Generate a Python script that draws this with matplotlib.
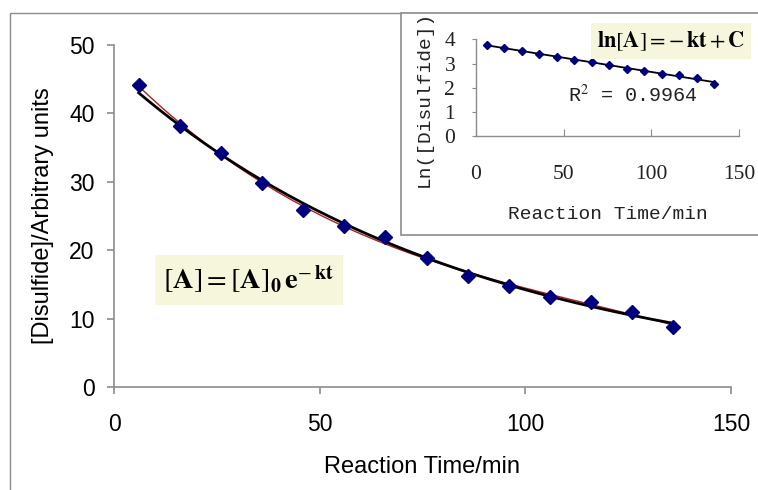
import numpy as np
import matplotlib
matplotlib.use('Agg')
from matplotlib import pyplot as plt
from matplotlib.patches import Rectangle

# data
time_min = [6, 16, 26, 36, 46, 56, 66, 76, 86, 96, 106, 116, 126, 136]
disulfide = [44.2, 38.2, 34.2, 29.8, 25.9, 23.5, 21.9, 18.9, 16.2, 14.8, 13.2, 12.4, 11.0, 8.8]
x_ticks = [0, 50, 100, 150]
y_ticks = [0, 10, 20, 30, 40, 50]
inset_y_ticks = [0, 1, 2, 3, 4]
r2_text = 'R$^2$ = 0.9964'

t = np.array(time_min, dtype=float)
conc = np.array(disulfide)
ln_conc = np.log(conc)

# trendlines like the spreadsheet ones
slope, icpt = np.polyfit(t, ln_conc, 1)
tt = np.linspace(t.min(), t.max(), 200)
exp_fit = np.exp(icpt + slope * tt)
poly_fit = np.polyval(np.polyfit(t, conc, 3), tt)

plt.rcParams['font.family'] = 'Liberation Sans'
plt.rcParams['mathtext.fontset'] = 'stix'

grey = '#8c8c8c'
navy = '#00007f'

fig = plt.figure(figsize=(7.58, 4.90), dpi=100)

# outer frame
fig.add_artist(Rectangle((10 / 758, -0.2), 2.0, 1.2 - 13 / 490, transform=fig.transFigure,
                         fill=False, ec=grey, lw=1.0, zorder=0))

ax = fig.add_axes([114 / 758, 1 - 387 / 490, (731 - 114) / 758, (387 - 45) / 490])
ax.set_facecolor('none')
ax.plot(tt, poly_fit, color='#b02020', lw=1.0, zorder=2)
ax.plot(tt, exp_fit, color='black', lw=2.0, zorder=3)
ax.plot(t, conc, 'D', color=navy, ms=7, zorder=4, clip_on=False)
ax.set_xlim(0, 150)
ax.set_ylim(0, 50)
ax.set_xticks(x_ticks)
ax.set_yticks(y_ticks)
for s in ['top', 'right']:
    ax.spines[s].set_visible(False)
for s in ['left', 'bottom']:
    ax.spines[s].set_color(grey)
    ax.spines[s].set_linewidth(1.2)
ax.tick_params(axis='both', colors=grey, labelcolor='black', labelsize=16.5, length=5, width=1.2)
ax.tick_params(axis='x', pad=14)
ax.tick_params(axis='y', pad=9)
ax.set_xlabel('Reaction Time/min', fontsize=17, labelpad=14)
ax.set_ylabel('[Disulfide]/Arbitrary units', fontsize=17, labelpad=11)

ax.text(0.08, 0.313, r'$[\mathbf{A}] = [\mathbf{A}]_{\mathbf{0}}\,\mathbf{e}^{-\,\mathbf{kt}}$',
        transform=ax.transAxes, fontsize=20.5, va='center', ha='left',
        bbox=dict(boxstyle='square,pad=0.3', fc='#f6f6dc', ec='none'))

# inset box
fig.add_artist(Rectangle((401 / 758, 1 - 235 / 490), 2.0, (235 - 13) / 490, transform=fig.transFigure,
                         fc='white', ec=grey, lw=1.2, zorder=1))

mono = 'Liberation Mono'
ins = fig.add_axes([476 / 758, 1 - 136 / 490, (739 - 476) / 758, (136 - 39.5) / 490])
ins.set_zorder(2)
ins.set_facecolor('none')
ins.plot(tt, icpt + slope * tt, color='black', lw=1.3)
ins.plot(t, ln_conc, 'D', color=navy, ms=3.8, clip_on=False)
ins.set_xlim(0, 150)
ins.set_ylim(0, 4)
ins.set_xticks(x_ticks)
ins.set_yticks(inset_y_ticks)
for s in ['top', 'right']:
    ins.spines[s].set_visible(False)
for s in ['left', 'bottom']:
    ins.spines[s].set_color(grey)
    ins.spines[s].set_linewidth(1.0)
ins.tick_params(axis='x', direction='in', length=5, colors=grey, labelcolor='#222222', pad=21)
ins.tick_params(axis='y', direction='out', length=3, colors=grey, labelcolor='#222222', pad=12)
for lab in ins.get_xticklabels() + ins.get_yticklabels():
    lab.set_family('Liberation Serif')
    lab.set_fontsize(15.5)
ins.set_xlabel('Reaction Time/min', family=mono, fontsize=14, labelpad=16, color='#222222')
ins.set_ylabel('Ln([Disulfide])', family=mono, fontsize=14, color='#222222')
ins.yaxis.set_label_coords(-0.165, 0.385)
ins.text(0.35, 0.425, r2_text, transform=ins.transAxes, family=mono, fontsize=14.5,
         color='#222222', va='center', ha='left')
ins.text(0.46, 0.985, r'$\mathbf{ln}[\mathbf{A}] = -\,\mathbf{kt} + \mathbf{C}$',
         transform=ins.transAxes, fontsize=16, va='center', ha='left',
         bbox=dict(boxstyle='square,pad=0.28', fc='#f6f6dc', ec='none'))

fig.savefig('out.png', dpi=100)
